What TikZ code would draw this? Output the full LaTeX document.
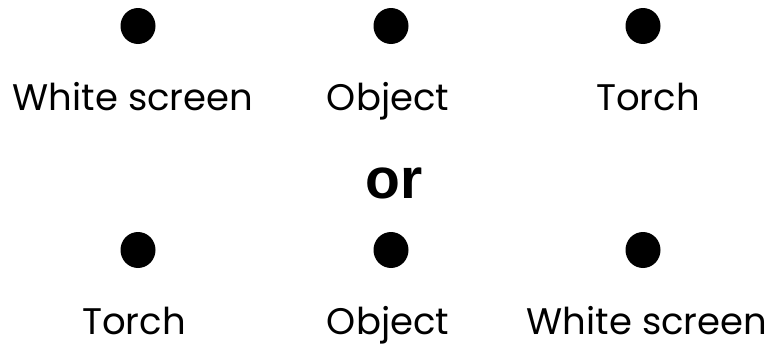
\documentclass[tikz,border=0pt]{standalone}
\usepackage{fontspec}
\setmainfont{Poppins}
\newfontfamily\orfont{Liberation Sans}
\usetikzlibrary{positioning,shapes.geometric}

\begin{document}
\begin{tikzpicture}[x=1pt,y=-1pt,
          dot/.style={ellipse, fill=black, minimum width=35pt, minimum height=36pt, inner sep=0pt},
          lbl/.style={anchor=base, inner sep=0pt, text depth=0pt, font=\fontsize{37}{40}\selectfont}]
        \useasboundingbox (0,0) rectangle (772,348);
        % upper row
        \node[dot] (a1) at (138,26) {};
        \node[dot] (a2) at (391,26) {};
        \node[dot] (a3) at (643,26) {};
        \node[lbl] (ta1) at (133,110) {White screen};
        \node[lbl] (ta2) at (388,110) {Object};
        \node[lbl] (ta3) at (648,110) {Torch};
        \node[anchor=base, inner sep=0pt, font=\orfont\bfseries\fontsize{57}{60}\selectfont] (or) at (394,198) {or};
        % lower row
        \node[dot] (b1) at (138,250) {};
        \node[dot] (b2) at (391,250) {};
        \node[dot] (b3) at (643,250) {};
        \node[lbl] (tb1) at (134,334) {Torch};
        \node[lbl] (tb2) at (388,334) {Object};
        \node[lbl] (tb3) at (647,334) {White screen};
      \end{tikzpicture}
\end{document}
